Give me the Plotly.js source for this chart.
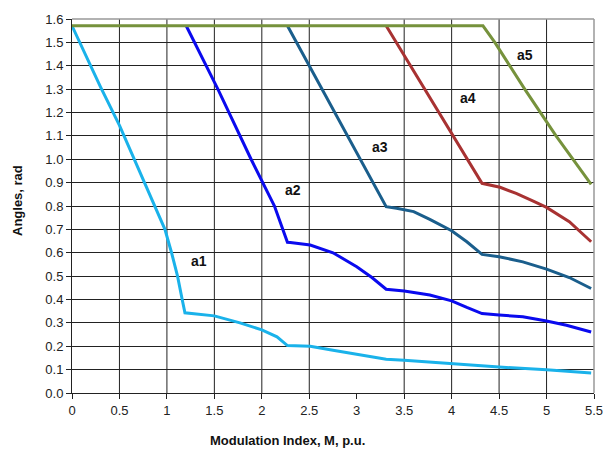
<!DOCTYPE html>
<html>
<head>
<meta charset="utf-8">
<script src="https://cdn.plot.ly/plotly-3.0.1.min.js"></script>
<style>html,body{margin:0;padding:0;background:#fff;}#chart{width:606px;height:451px;}</style>
</head>
<body>
<div id="chart"></div>
<script>
var seriesNames = ["a1", "a2", "a3", "a4", "a5"];
var a1x = [0, 0.3, 0.5, 0.7, 0.874, 0.979, 1.049, 1.112, 1.161, 1.19, 1.5, 1.77, 2.0, 2.16, 2.27, 2.51, 2.75, 3.0, 3.31, 3.5, 4.0, 4.32, 4.5, 5.0, 5.47];
var a1y = [1.571, 1.31, 1.145, 0.96, 0.8, 0.7, 0.6, 0.5, 0.4, 0.343, 0.33, 0.30, 0.27, 0.24, 0.203, 0.20, 0.183, 0.166, 0.144, 0.14, 0.126, 0.114, 0.111, 0.10, 0.086];
var a2x = [1.203, 1.537, 1.887, 2.0, 2.133, 2.27, 2.3, 2.51, 2.75, 3.0, 3.16, 3.31, 3.5, 3.77, 4.0, 4.16, 4.32, 4.5, 4.75, 5.0, 5.21, 5.47];
var a2y = [1.571, 1.3, 1.0, 0.911, 0.8, 0.645, 0.644, 0.633, 0.60, 0.54, 0.494, 0.444, 0.436, 0.419, 0.394, 0.366, 0.34, 0.334, 0.326, 0.308, 0.29, 0.261];
var a3x = [2.27, 3.31, 3.42, 3.6, 3.77, 4.0, 4.16, 4.32, 4.5, 4.75, 5.0, 5.24, 5.47];
var a3y = [1.571, 0.797, 0.79, 0.776, 0.743, 0.694, 0.647, 0.593, 0.583, 0.561, 0.53, 0.494, 0.447];
var a4x = [3.31, 3.52, 4.0, 4.32, 4.51, 4.68, 4.86, 5.0, 5.24, 5.47];
var a4y = [1.571, 1.43, 1.11, 0.897, 0.88, 0.854, 0.821, 0.794, 0.733, 0.647];
var a5x = [0, 4.33, 4.455, 4.77, 5.1, 5.47];
var a5y = [1.571, 1.571, 1.5, 1.3, 1.1, 0.893];
var labelX = [1.34, 2.33, 3.24, 4.17, 4.77];
var labelY = [0.564, 0.868, 1.054, 1.261, 1.447];
var xTicks = [0, 0.5, 1, 1.5, 2, 2.5, 3, 3.5, 4, 4.5, 5, 5.5];
var xGrid = [0.5, 1, 1.5, 2, 2.5, 3.5, 4, 4.5, 5];
var yTicks = [0, 0.1, 0.2, 0.3, 0.4, 0.5, 0.6, 0.7, 0.8, 0.9, 1.0, 1.1, 1.2, 1.3, 1.4, 1.5, 1.6];

var colors = ["#1AB2EA", "#0A0AEE", "#1A5E8C", "#A83232", "#76923C"];
var xs = [a1x, a2x, a3x, a4x, a5x];
var ys = [a1y, a2y, a3y, a4y, a5y];
var FONT = "Liberation Sans, Arial, sans-serif";

var traces = seriesNames.map(function(n, i) {
  return {x: xs[i], y: ys[i], name: n, mode: "lines", type: "scatter",
    line: {color: colors[i], width: 3}, hoverinfo: "skip"};
});

var annotations = seriesNames.map(function(n, i) {
  return {x: labelX[i], y: labelY[i], xref: "x", yref: "y", text: "<b>" + n + "</b>",
    showarrow: false, font: {family: FONT, size: 14, color: "#111"}};
});
annotations.push({xref: "paper", yref: "paper", x: (287 - 72) / 522, y: (451 - 440 - 58) / 374,
  text: "<b>Modulation Index, M, p.u.</b>", showarrow: false, xanchor: "center", yanchor: "middle",
  font: {family: FONT, size: 13, color: "#111"}});
annotations.push({xref: "paper", yref: "paper", x: (18 - 72) / 522, y: (393 - 201) / 374,
  text: "<b>Angles, rad</b>", showarrow: false, textangle: -90, xanchor: "center", yanchor: "middle",
  font: {family: FONT, size: 13, color: "#111"}});

var shapes = xGrid.map(function(v) {
  return {type: "line", xref: "x", yref: "paper", x0: v, x1: v, y0: 0, y1: 1, layer: "below",
    line: {color: "#222", width: 1}};
});
shapes.push({type: "line", xref: "paper", yref: "paper", x0: 0, x1: 1, y0: 1, y1: 1, line: {color: "#999", width: 1.5}});
shapes.push({type: "line", xref: "paper", yref: "paper", x0: 1, x1: 1, y0: 0, y1: 1, line: {color: "#999", width: 1.5}});

var layout = {
  width: 606, height: 451,
  margin: {l: 72, r: 12, t: 19, b: 58},
  paper_bgcolor: "#fff", plot_bgcolor: "#fff",
  showlegend: false,
  font: {family: FONT, size: 13, color: "#222"},
  xaxis: {
    range: [0, 5.5], tickvals: xTicks, ticktext: xTicks.map(String),
    showgrid: false,
    showline: true, linecolor: "#222", linewidth: 1, mirror: false,
    ticks: "outside", ticklen: 5, tickcolor: "#222",
    zeroline: false
  },
  yaxis: {
    range: [0, 1.6], tickvals: yTicks, ticktext: yTicks.map(function(v){return v.toFixed(1);}),
    showgrid: true, gridcolor: "#222", gridwidth: 1,
    showline: true, linecolor: "#222", linewidth: 1,
    ticks: "outside", ticklen: 5, tickcolor: "#222",
    zeroline: false
  },
  shapes: shapes,
  annotations: annotations
};

Plotly.newPlot("chart", traces, layout, {displayModeBar: false, staticPlot: true});
</script>
</body>
</html>
